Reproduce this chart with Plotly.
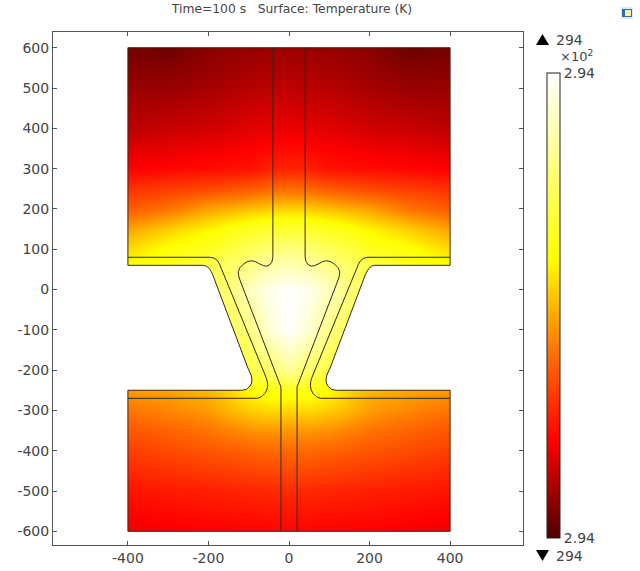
"""Transient temperature surface at t=100 s on a symmetric stepped plate."""
import numpy as np
import plotly.graph_objects as go

TITLE = "Time=100 s   Surface: Temperature (K)"
T_MIN = 293.6
T_MAX = 294.4

FIELD_X = [-400, -300, -200, -150, -100, -50, 0]
FIELD_Y = [600, 500, 400, 300, 250, 200, 150, 100, 60, 0, -100, -200, -250, -300, -350, -400, -500, -600]
FIELD_LEVELS = [
    [0.05, 0.04, 0.07, 0.08, 0.085, 0.09, 0.095],
    [0.09, 0.09, 0.105, 0.115, 0.125, 0.13, 0.135],
    [0.13, 0.145, 0.155, 0.165, 0.175, 0.18, 0.185],
    [0.21, 0.22, 0.23, 0.235, 0.24, 0.26, 0.27],
    [0.29, 0.31, 0.33, 0.345, 0.36, 0.38, 0.39],
    [0.36, 0.40, 0.47, 0.49, 0.51, 0.53, 0.54],
    [0.47, 0.53, 0.585, 0.62, 0.65, 0.67, 0.68],
    [0.55, 0.61, 0.65, 0.70, 0.74, 0.78, 0.80],
    [0.60, 0.63, 0.72, 0.76, 0.80, 0.86, 0.88],
    [0.62, 0.66, 0.74, 0.78, 0.90, 0.97, 1.00],
    [0.55, 0.60, 0.66, 0.74, 0.80, 0.93, 1.00],
    [0.50, 0.52, 0.55, 0.62, 0.70, 0.76, 0.84],
    [0.46, 0.47, 0.50, 0.54, 0.60, 0.63, 0.64],
    [0.40, 0.43, 0.46, 0.50, 0.53, 0.55, 0.54],
    [0.35, 0.37, 0.40, 0.42, 0.44, 0.45, 0.45],
    [0.31, 0.33, 0.35, 0.36, 0.37, 0.38, 0.38],
    [0.24, 0.25, 0.26, 0.265, 0.27, 0.275, 0.28],
    [0.19, 0.20, 0.21, 0.21, 0.21, 0.215, 0.22],
]

# left half of the geometry edges, x and y in model units
OUTER_X = [-400, -213, -205, -198, -193, -190, -102, -94, -92, -93, -97, -106, -117, -400]
OUTER_Y = [60, 60, 58, 52, 44, 38, -195, -212, -225, -232, -240, -248, -250, -250]
MID_X = [-400, -196, -186, -178, -172, -168, -57, -54, -53, -55, -60, -68, -78, -400]
MID_Y = [80, 80, 78, 72, 62, 52, -218, -228, -238, -249, -258, -266, -270, -270]
CAVITY_X = [-40, -40, -42, -47, -55, -63, -72, -83, -93, -104, -113, -122, -126, -125, -122, -22, -20, -20]
CAVITY_Y = [600, 81, 70, 62, 58, 59, 63, 69, 71.5, 69, 63, 54, 44, 34, 24, -232, -242, -600]

X_TICKS = [-400, -200, 0, 200, 400]
Y_TICKS = [600, 500, 400, 300, 200, 100, 0, -100, -200, -300, -400, -500, -600]
X_RANGE = [-586, 581]
Y_RANGE = [-634, 639]

COLOR_STOPS = [
    [0.0, "#4d0000"], [0.21, "#ff0000"], [0.42, "#ff8000"], [0.60, "#ffff00"], [1.0, "#ffffff"],
]
TEXT_COLOR = "#444444"
FRAME_COLOR = "#555555"
EDGE_COLOR = "#332a1a"
FONT = "DejaVu Sans"

W, H = 640, 571
L, R, T, B = 53, 523, 32, 545


def px(x):
    return (x - L) / (R - L)


def py(y):
    return (B - y) / (B - T)


levels = np.array(FIELD_LEVELS)
full_levels = np.hstack([levels, levels[:, -2::-1]])
full_x = FIELD_X + [-v for v in FIELD_X[-2::-1]]
temperature = T_MIN + (T_MAX - T_MIN) * full_levels

outer_rx = [-v for v in OUTER_X]
# the white surround: frame first, then the plate edge walked back round (single path)
mask_x = [X_RANGE[0], X_RANGE[1], X_RANGE[1], X_RANGE[0], X_RANGE[0], -400] + OUTER_X + [-400, 400] + outer_rx[::-1] + [400, -400, X_RANGE[0]]
mask_y = [Y_RANGE[1], Y_RANGE[1], Y_RANGE[0], Y_RANGE[0], Y_RANGE[1], 600] + OUTER_Y + [-600, -600] + OUTER_Y[::-1] + [600, 600, Y_RANGE[1]]

fig = go.Figure()
fig.add_trace(go.Heatmap(
    x=full_x, y=FIELD_Y, z=temperature, zsmooth="best", zmin=T_MIN, zmax=T_MAX,
    colorscale=COLOR_STOPS, hoverinfo="skip",
    colorbar=dict(
        x=px(547), xanchor="left", xpad=0, y=py(73), yanchor="top", ypad=0,
        lenmode="pixels", len=465, thickness=13, thicknessmode="pixels",
        outlinecolor="#222222", outlinewidth=1, ticks="",
        tickmode="array", tickvals=[T_MIN, T_MAX], ticktext=["2.94", "2.94"],
        tickfont=dict(family=FONT, size=14, color=TEXT_COLOR),
    ),
))
fig.add_trace(go.Scatter(
    x=mask_x, y=mask_y, mode="lines", fill="toself", fillcolor="#ffffff",
    line=dict(width=0), hoverinfo="skip", showlegend=False,
))

edges = [
    (OUTER_X + [-400, 400] + outer_rx[::-1] + [400, -400, -400], OUTER_Y + [-600, -600] + OUTER_Y[::-1] + [600, 600, OUTER_Y[0]]),
    (MID_X, MID_Y), ([-v for v in MID_X], MID_Y),
    (CAVITY_X, CAVITY_Y), ([-v for v in CAVITY_X], CAVITY_Y),
]
for ex, ey in edges:
    fig.add_trace(go.Scatter(
        x=ex, y=ey, mode="lines", line=dict(color=EDGE_COLOR, width=1),
        hoverinfo="skip", showlegend=False,
    ))

axis_style = dict(
    showgrid=False, zeroline=False, showline=True, linecolor=FRAME_COLOR, linewidth=1,
    mirror="allticks", ticks="inside", ticklen=4, tickcolor=FRAME_COLOR, tickwidth=1,
    tickfont=dict(family=FONT, size=14, color=TEXT_COLOR), tickmode="array", automargin=False,
)
fig.update_xaxes(range=X_RANGE, tickvals=X_TICKS, ticktext=[str(v) for v in X_TICKS], **axis_style)
fig.update_yaxes(range=Y_RANGE, tickvals=Y_TICKS, ticktext=[str(v) for v in Y_TICKS], **axis_style)


def note(text, x, y, size=14, anchor="left"):
    fig.add_annotation(
        xref="paper", yref="paper", x=px(x), y=py(y), text=text, showarrow=False,
        xanchor=anchor, yanchor="middle", xshift=0, align="left",
        font=dict(family=FONT, size=size, color=TEXT_COLOR),
    )


note("294", 554, 40)
note("294", 554, 556)
note("×10<sup>2</sup>", 558, 56, size=13)

# max / min markers
fig.add_shape(type="path", xref="paper", yref="paper", line_width=0, fillcolor="#000000",
              path=f"M {px(536)} {py(45)} L {px(549)} {py(45)} L {px(542.5)} {py(34)} Z")
fig.add_shape(type="path", xref="paper", yref="paper", line_width=0, fillcolor="#000000",
              path=f"M {px(536)} {py(550)} L {px(549)} {py(550)} L {px(542.5)} {py(561)} Z")

# little window icon in the corner
fig.add_shape(type="rect", xref="paper", yref="paper", x0=px(621), x1=px(633), y0=py(19), y1=py(7),
              fillcolor="#dfe8f2", line_width=0)
fig.add_shape(type="rect", xref="paper", yref="paper", x0=px(622), x1=px(632), y0=py(17), y1=py(9),
              fillcolor="#2f6f9f", line_width=0)
fig.add_shape(type="rect", xref="paper", yref="paper", x0=px(625), x1=px(631), y0=py(16), y1=py(10),
              fillcolor="#f4efb0", line_width=0)

fig.update_layout(
    width=W, height=H, margin=dict(l=L, r=W - R, t=T, b=H - B),
    paper_bgcolor="#ffffff", plot_bgcolor="#ffffff", showlegend=False,
    title=dict(text=TITLE, x=292 / W, xanchor="center", y=1 - 9 / H, yanchor="middle",
               font=dict(family=FONT, size=12.3, color=TEXT_COLOR)),
)
fig.write_html("out.html", config={"displayModeBar": False},
               post_script="document.body.style.margin='0';")
